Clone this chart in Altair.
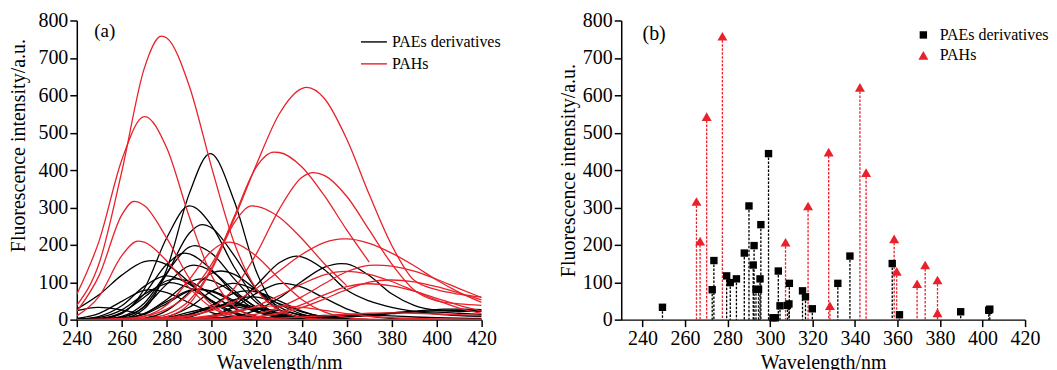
import altair as alt
import pandas as pd

FONT = "Liberation Serif"
BLACK = "#000000"
RED = "#e8212b"

# ---------------- data ----------------
wl_grid = [240, 250, 260, 270, 280, 290, 300, 310, 320, 330, 340, 350, 360, 370, 380, 390, 400, 410, 420]

# peak positions / intensities (panel b)
pae_peak_wl = [249.4, 272.8, 273.6, 279.6, 281.3, 284.2, 287.9, 290.1, 292.1, 292.5, 293.4, 294.6,
               295.3, 295.7, 299.3, 301.4, 302.5, 303.9, 304.7, 308.2, 308.9, 309.1, 315.3, 316.7,
               319.9, 331.9, 337.6, 357.5, 360.9, 389.7, 402.9, 403.4]
pae_peak_int = [33, 80, 158, 117, 99, 109, 178, 304, 146, 198, 81, 81,
                109, 254, 444, 5, 5, 130, 37, 38, 42, 97, 77, 61,
                29, 97, 170, 150, 13, 21, 25, 28]

pah_peak_wl = [265.4, 267.1, 270.2, 277.6, 307.3, 317.9, 327.6, 328.2, 342.3, 345.2, 358.4, 359.6,
               369.2, 373.0, 378.8, 378.8]
pah_peak_int = [316, 210, 543, 758, 207, 304, 448, 37, 621, 393, 216, 129,
                96, 146, 106, 18]

# emission spectra read at wl_grid (panel a); None = curve not recorded there
pae_spectra = [
    [24, 33, 26, 13, 4, 1, 0, 0, 0, 0, 0, 0, 0, 0, 0, 0, 0, 0, 0],
    [3, 17, 49, 78, 72, 45, 19, 5, 1, 0, 0, 0, 0, 0, 0, 0, 0, 0, 0],
    [28, 67, 119, 155, 147, 100, 47, 16, 4, 1, 0, 0, 0, 0, 0, 0, 0, 0, 0],
    [1, 9, 37, 89, 117, 95, 51, 19, 5, 1, 0, 0, 0, 0, 0, 0, 0, 0, 0],
    [1, 6, 26, 68, 97, 85, 50, 20, 5, 1, 0, 0, 0, 0, 0, 0, 0, 0, 0],
    [0, 3, 19, 60, 104, 102, 67, 30, 9, 2, 0, 0, 0, 0, 0, 0, 0, 0, 0],
    [0, 2, 18, 69, 148, 176, 133, 69, 24, 6, 1, 0, 0, 0, 0, 0, 0, 0, 0],
    [0, 2, 16, 82, 219, 304, 251, 140, 53, 14, 3, 0, 0, 0, 0, 0, 0, 0, 0],
    [0, 1, 7, 34, 95, 144, 129, 78, 32, 9, 2, 0, 0, 0, 0, 0, 0, 0, 0],
    [0, 1, 9, 44, 125, 194, 177, 109, 45, 13, 3, 0, 0, 0, 0, 0, 0, 0, 0],
    [0, 0, 3, 16, 48, 78, 75, 47, 20, 6, 1, 0, 0, 0, 0, 0, 0, 0, 0],
    [0, 0, 2, 14, 43, 76, 77, 51, 23, 7, 2, 0, 0, 0, 0, 0, 0, 0, 0],
    [0, 0, 3, 16, 54, 100, 104, 71, 33, 10, 2, 0, 0, 0, 0, 0, 0, 0, 0],
    [0, 0, 6, 36, 122, 231, 245, 171, 80, 26, 6, 1, 0, 0, 0, 0, 0, 0, 0],
    [0, 0, 3, 29, 135, 337, 443, 317, 126, 27, 3, 0, 0, 0, 0, 0, 0, 0, 0],
    [0, 0, 0, 0, 1, 3, 5, 4, 2, 1, 0, 0, 0, 0, 0, 0, 0, 0, 0],
    [0, 0, 0, 0, 1, 3, 5, 5, 3, 1, 0, 0, 0, 0, 0, 0, 0, 0, 0],
    [0, 0, 1, 4, 24, 73, 124, 121, 79, 34, 10, 2, 0, 0, 0, 0, 0, 0, 0],
    [0, 0, 0, 2, 6, 20, 34, 35, 23, 11, 3, 1, 0, 0, 0, 0, 0, 0, 0],
    [0, 0, 0, 0, 4, 14, 31, 38, 29, 15, 5, 1, 0, 0, 0, 0, 0, 0, 0],
    [0, 0, 0, 0, 3, 15, 33, 42, 33, 18, 6, 2, 0, 0, 0, 0, 0, 0, 0],
    [0, 0, 0, 1, 8, 33, 76, 97, 77, 41, 15, 4, 1, 0, 0, 0, 0, 0, 0],
    [0, 0, 0, 0, 2, 12, 38, 71, 74, 50, 23, 7, 2, 0, 0, 0, 0, 0, 0],
    [0, 0, 0, 0, 1, 7, 27, 53, 60, 43, 21, 7, 2, 0, 0, 0, 0, 0, 0],
    [0, 0, 0, 0, 0, 2, 9, 22, 29, 24, 13, 5, 1, 0, 0, 0, 0, 0, 0],
    [0, 0, 0, 0, 0, 2, 10, 33, 71, 96, 87, 58, 29, 10, 3, 1, 0, 0, 0],
    [0, 0, 0, 0, 0, 2, 11, 38, 93, 152, 168, 134, 79, 50, 33, 22, 15, 11, 9],
    [0, 0, 0, 0, 0, 0, 2, 8, 26, 58, 102, 140, 149, 118, 69, 38, 25, 22, 22],
    [0, 0, 0, 0, 0, 0, 0, 0, 3, 5, 8, 11, 13, 12, 10, 7, 5, 4, 3],
    [0, 0, 0, 0, 0, 0, 0, 0, 0, 2, 4, 7, 10, 14, 18, 21, 20, 17, 14],
    [0, 0, 0, 0, 0, 0, 0, 0, 0, 0, 2, 4, 7, 11, 16, 21, 24, 25, 24],
    [0, 0, 0, 0, 0, 0, 0, 0, 0, 0, 3, 5, 8, 12, 18, 23, 27, 28, 27],
]

pah_spectra = [
    [22, 119, 280, 305, 218, 111, 40, 10, 2, 0, 0, 0, 0, 0, 0, 0, 0, 0, 0],
    [10, 63, 171, 207, 157, 85, 32, 9, 2, 0, 0, 0, 0, 0, 0, 0, 0, 0, 0],
    [68, 212, 427, 543, 459, 275, 117, 35, 8, 1, 0, 0, 0, 0, 0, 0, 0, 0, 0],
    [38, 152, 396, 672, 753, 625, 406, 205, 80, 25, 6, 1, 0, 0, 0, 0, 0, 0, 0],
    [0, 0, 1, 9, 39, 107, 184, 205, 169, 109, 54, 21, 6, 1, 0, 0, 0, 0, 0],
    [0, 0, 0, 1, 8, 42, 134, 259, 303, 274, 217, 150, 91, None, None, None, None, None, None],
    [0, 0, 0, 3, 14, 51, 139, 276, 410, 447, 409, 332, 240, 154, None, None, None, None, None],
    [0, 0, 0, 0, 0, 4, 11, 22, 33, 37, 33, 25, 16, 9, 5, 3, 2, 1, 1],
    [0, 1, 3, 9, 28, 70, 149, 270, 417, 550, 618, 592, 483, 335, 199, 105, 80, 68, 60],
    [0, 0, 0, 1, 3, 9, 31, 84, 178, 295, 380, 386, 330, 240, 149, 79, 50, 42, 38],
    [0, 0, 0, 2, 5, 11, 24, 48, 84, 130, 174, 206, 216, 204, 178, 144, 106, 73, 46],
    [0, 0, 0, 0, 1, 3, 7, 18, 37, 64, 95, 120, 129, 121, 102, 77, 52, 31, 17],
    [0, 0, 0, 0, 0, 0, 1, 3, 8, 19, 40, 66, 88, 96, 90, 76, 57, 38, 23],
    [0, 0, 0, 0, 0, 1, 2, 6, 15, 33, 61, 96, 128, 145, 143, 130, 108, 83, 59],
    [0, 0, 0, 0, 0, 0, 1, 3, 7, 16, 32, 55, 80, 100, 106, 101, 88, 71, 53],
    [0, 0, 0, 0, 0, 0, 0, 1, 2, 4, 7, 10, 14, 17, 18, 17, 15, 13, 11],
]

GROUPS = ["PAEs derivatives", "PAHs"]


def curve_rows(group, spectra, peak_wl, peak_int):
    rows = []
    for i, (vals, pw, pi) in enumerate(zip(spectra, peak_wl, peak_int)):
        pts = [(w, v) for w, v in zip(wl_grid, vals) if v is not None]
        pts.append((pw, pi))
        pts.sort()
        for order, (w, v) in enumerate(pts):
            rows.append({"group": group, "curve": f"{group}-{i:02d}", "order": order,
                         "wl": w, "intensity": v})
    return rows


curves = pd.DataFrame(curve_rows(GROUPS[0], pae_spectra, pae_peak_wl, pae_peak_int)
                      + curve_rows(GROUPS[1], pah_spectra, pah_peak_wl, pah_peak_int))
peaks = pd.DataFrame(
    [{"group": GROUPS[0], "wl": w, "intensity": v} for w, v in zip(pae_peak_wl, pae_peak_int)]
    + [{"group": GROUPS[1], "wl": w, "intensity": v} for w, v in zip(pah_peak_wl, pah_peak_int)]
)

# ---------------- styling helpers ----------------
axis_style = dict(
    domainColor="black", domainWidth=1.5, tickColor="black", tickWidth=1.5, tickSize=7,
    labelFont=FONT, labelFontSize=20, labelColor="black", labelPadding=2,
    labelFlush=False, labelOverlap=False,
    titleFont=FONT, titleFontSize=20, titleFontWeight="normal", titleColor="black",
    grid=False,
)
y_ticks = list(range(0, 801, 100))
x_ticks = list(range(240, 421, 20))

color_scale = alt.Scale(domain=GROUPS, range=[BLACK, RED])

# ---------------- panel (a) ----------------
xa = alt.X("wl:Q", scale=alt.Scale(domain=[240, 420], nice=False, zero=False),
           axis=alt.Axis(values=x_ticks, title="Wavelength/nm", titlePadding=4, **axis_style))
ya = alt.Y("intensity:Q", scale=alt.Scale(domain=[0, 800], nice=False),
           axis=alt.Axis(values=y_ticks, title="Fluorescence intensity/a.u.",
                         titleX=-58, titleY=125, titleBaseline="middle", titleAlign="center",
                         **axis_style))

legend_a = alt.Legend(title=None, orient="none", legendX=284, legendY=7.5, symbolType="stroke",
                      symbolSize=676, symbolStrokeWidth=1.4, labelOffset=4, rowPadding=-12.2,
                      padding=0, labelFont=FONT, labelFontSize=16, labelColor="black")

lines_black = alt.Chart(curves).transform_filter(alt.datum.group == GROUPS[0]).mark_line(
    strokeWidth=1.3, interpolate="monotone", clip=True
).encode(x=xa, y=ya, detail="curve:N", order="order:Q",
         color=alt.Color("group:N", scale=color_scale, legend=legend_a))

lines_red = alt.Chart(curves).transform_filter(alt.datum.group == GROUPS[1]).mark_line(
    strokeWidth=1.3, interpolate="monotone", clip=True
).encode(x=xa, y=ya, detail="curve:N", order="order:Q",
         color=alt.Color("group:N", scale=color_scale, legend=legend_a))

label_a = alt.Chart(pd.DataFrame({"t": ["(a)"]})).mark_text(
    font=FONT, fontSize=19, color="black", align="center", baseline="middle"
).encode(text="t:N", x=alt.value(28), y=alt.value(11))

panel_a = alt.layer(lines_black, lines_red, label_a).properties(width=406, height=300)

# ---------------- panel (b) ----------------
xb = alt.X("wl:Q", scale=alt.Scale(domain=[230, 420], nice=False, zero=False),
           axis=alt.Axis(values=x_ticks, title="Wavelength/nm", titlePadding=4, **axis_style))
yb = alt.Y("intensity:Q", scale=alt.Scale(domain=[0, 800], nice=False),
           axis=alt.Axis(values=y_ticks, title="Fluorescence intensity/a.u.",
                         titleX=-53, titleY=150, titleBaseline="middle", titleAlign="center",
                         **axis_style))

stems_black = alt.Chart(peaks).transform_filter(alt.datum.group == GROUPS[0]).mark_rule(
    strokeWidth=1.3, strokeDash=[2.5, 1.5], color=BLACK
).encode(x=xb, y=yb, y2=alt.datum(0))

stems_red = alt.Chart(peaks).transform_filter(alt.datum.group == GROUPS[1]).mark_rule(
    strokeWidth=1.3, strokeDash=[2.5, 1.5], color=RED
).encode(x=xb, y=yb, y2=alt.datum(0))

legend_b = alt.Legend(title=None, orient="none", legendX=295, legendY=6.5, symbolSize=60,
                      labelOffset=8.4, rowPadding=4.5, padding=0, symbolStrokeWidth=0,
                      labelFont=FONT, labelFontSize=16, labelColor="black")

points_b = alt.Chart(peaks).mark_point(filled=True, opacity=1, strokeWidth=0).encode(
    x=xb, y=yb,
    color=alt.Color("group:N", scale=color_scale, legend=legend_b),
    shape=alt.Shape("group:N", scale=alt.Scale(domain=GROUPS, range=["square", "triangle-up"]),
                    legend=legend_b),
    size=alt.Size("group:N", scale=alt.Scale(domain=GROUPS, range=[55, 100]), legend=None),
)

label_b = alt.Chart(pd.DataFrame({"t": ["(b)"]})).mark_text(
    font=FONT, fontSize=20, color="black", align="center", baseline="middle"
).encode(text="t:N", x=alt.value(33), y=alt.value(14))

panel_b = alt.layer(stems_black, stems_red, points_b, label_b).properties(width=405, height=300)

chart = alt.hconcat(panel_a, panel_b, spacing=57).resolve_scale(
    color="independent", shape="independent", size="independent"
).configure(
    background="white", padding={"left": 0, "top": 2, "right": 0, "bottom": 0}
).configure_view(stroke=None).configure_legend(
    labelFont=FONT, labelFontSize=16, labelColor="black"
)

chart.save("out.html", embed_options={"renderer": "svg", "actions": False})
